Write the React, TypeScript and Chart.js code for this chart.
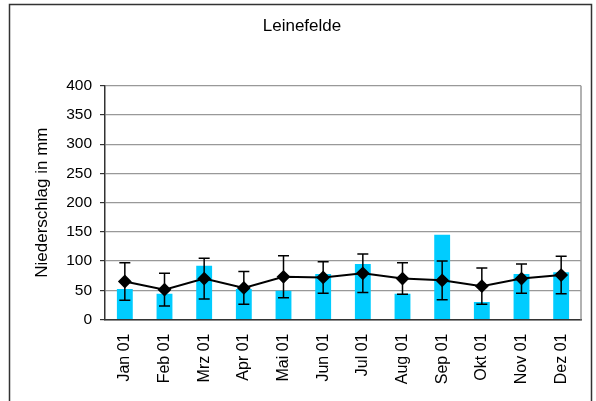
import React, { useEffect, useRef } from "react";
import { Chart, registerables } from "chart.js";

Chart.register(...registerables);

const months = ["Jan 01", "Feb 01", "Mrz 01", "Apr 01", "Mai 01", "Jun 01", "Jul 01", "Aug 01", "Sep 01", "Okt 01", "Nov 01", "Dez 01"];
const precip = [52, 44, 92, 52, 49, 78, 95, 44, 145, 30, 78, 81];
const meanPrecip = [65, 51, 70, 54, 73, 72, 79, 70, 67, 57, 70, 76];
const stdDev = [32, 28, 35, 28, 36, 27, 33, 27, 33, 31, 25, 32];
const yTicks = [0, 50, 100, 150, 200, 250, 300, 350, 400];

const FONT = '"Liberation Sans", Arial, sans-serif';

export default function App() {
  const ref = useRef<HTMLCanvasElement | null>(null);

  useEffect(() => {
    if (!ref.current) return;

    const framePlugin = {
      id: "frame",
      beforeDraw(chart: any) {
        const ctx = chart.ctx;
        ctx.save();
        ctx.fillStyle = "#fff";
        ctx.fillRect(0, 0, chart.width, chart.height);
        ctx.strokeStyle = "#333";
        ctx.lineWidth = 1.5;
        ctx.strokeRect(9.5, 4.5, 582, 450);
        ctx.restore();
      },
      beforeDatasetsDraw(chart: any) {
        const { ctx, chartArea } = chart;
        ctx.save();
        ctx.strokeStyle = "#999";
        ctx.lineWidth = 1.5;
        ctx.beginPath();
        ctx.moveTo(chartArea.right, chartArea.top);
        ctx.lineTo(chartArea.right, chartArea.bottom);
        ctx.stroke();
        ctx.restore();
      },
      afterDatasetDraw(chart: any, args: any) {
        if (args.index !== 0) return;
        const lineMeta = chart.getDatasetMeta(1);
        const y = chart.scales.y;
        const ctx = chart.ctx;
        ctx.save();
        ctx.strokeStyle = "#000";
        ctx.lineWidth = 1.5;
        lineMeta.data.forEach((pt: any, i: number) => {
          const x = pt.x;
          const top = y.getPixelForValue(meanPrecip[i] + stdDev[i]);
          const bot = y.getPixelForValue(meanPrecip[i] - stdDev[i]);
          ctx.beginPath();
          ctx.moveTo(x, top);
          ctx.lineTo(x, bot);
          ctx.moveTo(x - 5.5, top);
          ctx.lineTo(x + 5.5, top);
          ctx.moveTo(x - 5.5, bot);
          ctx.lineTo(x + 5.5, bot);
          ctx.stroke();
        });
        ctx.restore();
      },
    };

    const chart = new Chart(ref.current, {
      type: "bar",
      data: {
        labels: months,
        datasets: [
          {
            type: "bar",
            label: "Niederschlag",
            data: precip,
            backgroundColor: "#00CCFF",
            barPercentage: 0.4,
            categoryPercentage: 1.0,
            order: 2,
          },
          {
            type: "line",
            label: "Mittel",
            data: meanPrecip,
            borderColor: "#000",
            borderWidth: 2,
            pointStyle: "rectRot",
            pointRadius: 5.5,
            pointBackgroundColor: "#000",
            pointBorderColor: "#000",
            fill: false,
            tension: 0,
            order: 1,
          },
        ] as any,
      },
      options: {
        animation: false,
        responsive: false,
        devicePixelRatio: 1,
        layout: { padding: { left: 23, right: 15, top: 0, bottom: 0 } },
        plugins: {
          legend: { display: false },
          tooltip: { enabled: false },
          title: {
            display: true,
            text: "Leinefelde",
            color: "#000",
            font: { family: FONT, size: 17, weight: "normal" },
            padding: { top: 16.5, bottom: 48.8 },
          },
        },
        scales: {
          x: {
            type: "category",
            offset: true,
            grid: { display: false },
            border: { color: "#333", width: 1.5 },
            ticks: {
              maxRotation: 90,
              minRotation: 90,
              color: "#000",
              padding: 6,
              font: { family: FONT, size: 16 },
            },
            afterFit: (s: any) => {
              s.height = 81.5;
            },
          },
          y: {
            min: 0,
            max: 400,
            afterBuildTicks: (s: any) => {
              s.ticks = yTicks.map((v) => ({ value: v }));
            },
            grid: { color: "#999", lineWidth: 1.2, tickLength: 5, tickColor: "#333" },
            border: { color: "#333", width: 1.5 },
            ticks: {
              color: "#000",
              padding: 8,
              font: { family: FONT, size: 15.5 },
            },
            title: {
              display: true,
              text: "Niederschlag in mm",
              color: "#000",
              font: { family: FONT, size: 17 },
              padding: { top: 9.5, bottom: 0 },
            },
            afterFit: (s: any) => {
              s.width = 82;
            },
          },
        },
      } as any,
      plugins: [framePlugin],
    });

    return () => chart.destroy();
  }, []);

  return (
    <div style={{ position: "fixed", left: 0, top: 0, width: 596, height: 401 }}>
      <canvas ref={ref} width={596} height={401} style={{ width: 596, height: 401 }} />
    </div>
  );
}
